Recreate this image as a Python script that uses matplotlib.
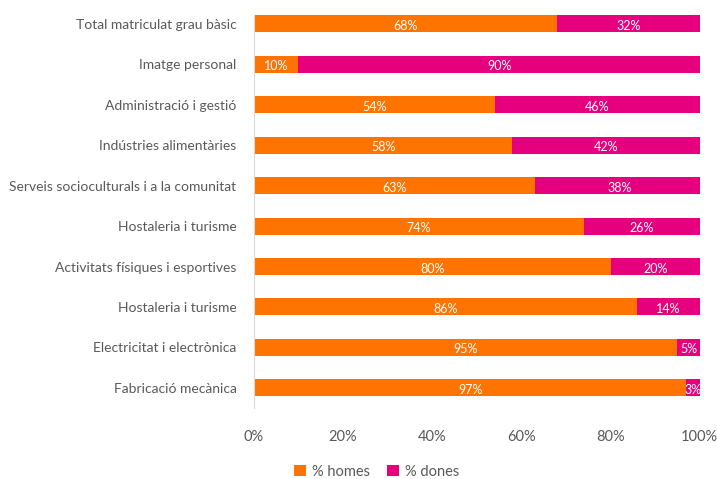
import matplotlib.pyplot as plt
import numpy as np

plt.rcParams['font.family'] = ['Lato', 'DejaVu Sans']

# data, top to bottom as in the picture
categories = ['Total matriculat grau bàsic', 'Imatge personal', 'Administració i gestió',
              'Indústries alimentàries', 'Serveis socioculturals i a la comunitat',
              'Hostaleria i turisme', 'Activitats físiques i esportives',
              'Hostaleria i turisme', 'Electricitat i electrònica', 'Fabricació mecànica']
homes = [68, 10, 54, 58, 63, 74, 80, 86, 95, 97]
dones = [32, 90, 46, 42, 38, 26, 20, 14, 5, 3]
xticks = [0, 20, 40, 60, 80, 100]

orange = '#FF7300'
magenta = '#E6007E'
grey = '#595959'

fig = plt.figure(figsize=(7.17, 4.79), dpi=100)
ax = fig.add_axes([0.354, 0.148, 0.622, 0.821])

# reverse so first category is on top
y = np.arange(len(categories))[::-1]
b1 = ax.barh(y, homes, height=0.42, color=orange, label='% homes')
b2 = ax.barh(y, dones, left=homes, height=0.42, color=magenta, label='% dones')

# white labels inside the segments
for yy, h, d in zip(y, homes, dones):
    ax.text(h / 2, yy - 0.05, f'{h}%', ha='center', va='center', color='white', fontsize=9)
    ax.text(h + d / 2, yy - 0.05, f'{d}%', ha='center', va='center', color='white', fontsize=9)

ax.set_yticks(y)
ax.set_yticklabels(categories, fontsize=10, color=grey)
ax.set_xticks(xticks)
ax.set_xticklabels([f'{t}%' for t in xticks], fontsize=10.5, color=grey)
ax.set_xlim(0, 100)
ax.set_ylim(-0.5, 9.22)
ax.tick_params(axis='y', length=0, pad=12.5)
ax.tick_params(axis='x', length=0, pad=16)

for s in ['top', 'right', 'bottom']:
    ax.spines[s].set_visible(False)
ax.spines['left'].set_color('#d9d9d9')

fig.legend(handles=[b1, b2], loc='center', bbox_to_anchor=(0.525, 0.015), ncol=2,
           frameon=False, fontsize=10.5, labelcolor=grey, handlelength=0.8, handleheight=0.8,
           handletextpad=0.4, columnspacing=1.2)

plt.savefig('out.png', dpi=100)
